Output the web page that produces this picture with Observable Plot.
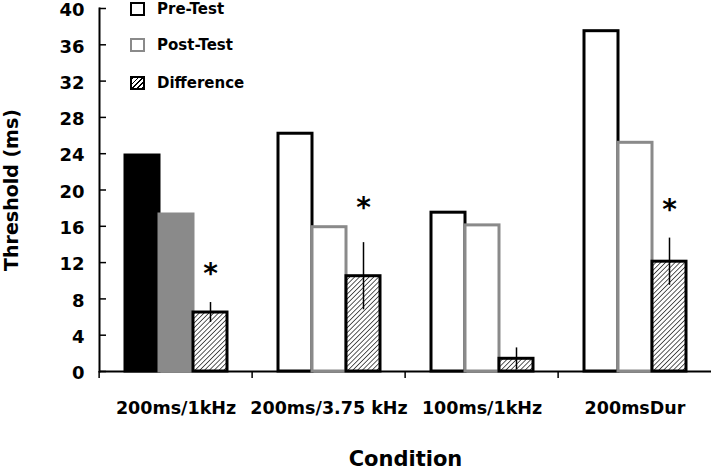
<!DOCTYPE html>
<html>
<head>
<meta charset="utf-8">
<script src="https://cdn.jsdelivr.net/npm/d3@7"></script>
<script src="https://cdn.jsdelivr.net/npm/@observablehq/plot@0.6"></script>
<style>
  html, body { margin: 0; padding: 0; background: #fff; }
  #wrap { position: relative; width: 712px; height: 469px; font-family: "DejaVu Sans", sans-serif; }
  #legend { position: absolute; left: 130px; top: 0px; font-weight: bold; font-size: 15px; color: #000; }
  .item { position: absolute; left: 0; height: 16px; display: flex; align-items: center; white-space: nowrap; }
  .sw { box-sizing: border-box; width: 15px; height: 14px; border: 2.5px solid #000; background: #fff; margin-right: 12px; }
</style>
</head>
<body>
<div id="wrap"></div>
<script>
// ---- data ----
const conditions = ["200ms/1kHz", "200ms/3.75 kHz", "100ms/1kHz", "200msDur"];
const series = ["Pre-Test", "Post-Test", "Difference"];
const preTest = [23.8, 26.2, 17.5, 37.5];
const postTest = [17.3, 15.9, 16.1, 25.2];
const difference = [6.5, 10.5, 1.4, 12.1];
const diffError = [1.1, 3.7, 1.2, 2.6];
const starLevel = [11.5, 18.8, null, 18.6];
const yTicks = [0, 4, 8, 12, 16, 20, 24, 28, 32, 36, 40];

// ---- tables built from the arrays ----
const values = {"Pre-Test": preTest, "Post-Test": postTest, "Difference": difference};
const bars = [];
conditions.forEach((c, i) => series.forEach(s => bars.push({condition: c, ci: i, series: s, value: values[s][i]})));
const diffs = conditions.map((c, i) => ({condition: c, series: "Difference", value: difference[i], lo: difference[i] - diffError[i], hi: difference[i] + diffError[i]}));
const stars = conditions.map((c, i) => ({condition: c, series: "Difference", level: starLevel[i]})).filter(d => d.level != null);

const W = 712, H = 469, ML = 97, MR = 0, MT = 8, MB = 98;
const half = (W - ML - MR) / conditions.length / 2;

const fillOf = d => d.series === "Difference" ? "url(#hatch)"
  : d.ci === 0 ? (d.series === "Pre-Test" ? "#000" : "#8a8a8a") : "#fff";
const strokeOf = d => d.series === "Post-Test" ? "#8a8a8a" : "#000";

const chart = Plot.plot({
  width: W, height: H,
  marginLeft: ML, marginRight: MR, marginTop: MT, marginBottom: MB,
  style: {fontFamily: "DejaVu Sans, sans-serif", fontWeight: "bold", color: "#000", background: "#fff"},
  fx: {domain: conditions, padding: 0},
  x: {domain: series, paddingInner: 0, paddingOuter: 0.696, axis: null},
  y: {domain: [0, 40]},
  marks: [
    Plot.ruleY([0], {stroke: "#000", strokeWidth: 2}),
    Plot.barY(bars, {fx: "condition", x: "series", y: "value", fill: fillOf, stroke: strokeOf, strokeWidth: 3}),
    Plot.ruleX(diffs, {fx: "condition", x: "series", y1: "lo", y2: "hi", stroke: "#000", strokeWidth: 1.5}),
    Plot.text(stars, {fx: "condition", x: "series", y: "level", text: () => "*", fontSize: 28, fontWeight: "bold", lineAnchor: "middle", dy: 7}),
    Plot.frame({anchor: "left", facetAnchor: "left", stroke: "#000", strokeWidth: 2}),
    Plot.axisY(yTicks, {tickSize: 0, tickPadding: 15, dy: 2, fontSize: 18, fontWeight: "bold", label: null}),
    Plot.axisY(yTicks, {tickSize: 7, dx: 7, tickFormat: () => "", label: null, strokeWidth: 1.5}),
    Plot.axisY([], {label: "Threshold (ms)", labelAnchor: "center", labelOffset: 95, labelArrow: "none", fontSize: 19, fontWeight: "bold"}),
    Plot.axisFx({anchor: "bottom", tickSize: 0, tickPadding: 30, fontSize: 17.5, fontWeight: "bold", label: null}),
    Plot.axisFx({anchor: "bottom", tickSize: 7, dx: -half, tickFormat: () => "", label: null, strokeWidth: 1.5}),
    Plot.axisFx([], {anchor: "bottom", label: "Condition", labelAnchor: "center", labelOffset: 94, labelArrow: "none", fontSize: 21, fontWeight: "bold"})
  ]
});

// hatch pattern for the Difference bars
const svg = d3.select(chart);
const pat = svg.insert("defs", ":first-child").append("pattern")
  .attr("id", "hatch").attr("patternUnits", "userSpaceOnUse")
  .attr("width", 3.4).attr("height", 3.4).attr("patternTransform", "rotate(45)");
pat.append("rect").attr("width", 3.4).attr("height", 3.4).attr("fill", "#fff");
pat.append("line").attr("x1", 0).attr("y1", 0).attr("x2", 0).attr("y2", 3.4).attr("stroke", "#000").attr("stroke-width", 1.3);

const wrap = document.getElementById("wrap");
wrap.appendChild(chart);

// legend (HTML, overlaid in the top-left of the plot)
const legendItems = [
  {label: series[0], border: "#000", bg: "#fff", top: 1},
  {label: series[1], border: "#8a8a8a", bg: "#fff", top: 37},
  {label: series[2], border: "#000", bg: "repeating-linear-gradient(-45deg, #000 0 1px, #fff 1px 3.4px)", top: 75}
];
const legend = document.createElement("div");
legend.id = "legend";
legendItems.forEach(it => {
  const row = document.createElement("div");
  row.className = "item";
  row.style.top = it.top + "px";
  const sw = document.createElement("span");
  sw.className = "sw";
  sw.style.borderColor = it.border;
  sw.style.background = it.bg;
  row.appendChild(sw);
  row.appendChild(document.createTextNode(it.label));
  legend.appendChild(row);
});
wrap.appendChild(legend);
</script>
</body>
</html>
